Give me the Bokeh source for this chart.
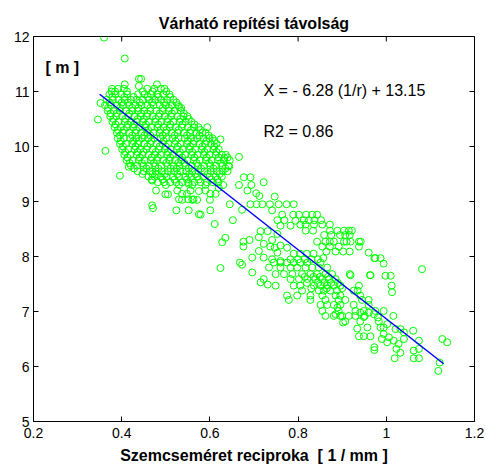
from bokeh.plotting import figure
from bokeh.models import Range1d, FixedTicker, Label, ColumnDataSource
from bokeh.embed import file_html
from bokeh.resources import INLINE

# ---------------- data ----------------
x_ticks = [0.2, 0.4, 0.6, 0.8, 1.0, 1.2]
x_tick_labels = ["0.2", "0.4", "0.6", "0.8", "1", "1.2"]
y_ticks = [5, 6, 7, 8, 9, 10, 11, 12]

fit_x = [0.35, 1.13]
fit_y = [10.95, 6.05]

equation_text = "X = - 6.28 (1/r) + 13.15"
r2_text = "R2 = 0.86"

# dense main cluster, rows of (y, x values)
blob_rows = [
    (11.05, [0.378, 0.392, 0.405, 0.458, 0.474, 0.489, 0.497]),
    (11.00, [0.385, 0.412, 0.448, 0.470, 0.501]),
    (10.95, [0.372, 0.386, 0.399, 0.412, 0.437, 0.452, 0.466, 0.481, 0.494, 0.508]),
    (10.90, [0.379, 0.406, 0.427, 0.459, 0.483, 0.510]),
    (10.85, [0.366, 0.380, 0.393, 0.407, 0.421, 0.434, 0.448, 0.462, 0.476, 0.489, 0.503, 0.517]),
    (10.80, [0.373, 0.400, 0.414, 0.441, 0.469, 0.496, 0.524]),
    (10.75, [0.362, 0.376, 0.389, 0.403, 0.417, 0.431, 0.445, 0.458, 0.472, 0.486, 0.500, 0.514, 0.528]),
    (10.70, [0.369, 0.396, 0.424, 0.438, 0.465, 0.493, 0.507, 0.535]),
    (10.65, [0.368, 0.382, 0.396, 0.410, 0.424, 0.437, 0.451, 0.465, 0.479, 0.493, 0.507, 0.520, 0.534]),
    (10.60, [0.375, 0.389, 0.417, 0.444, 0.458, 0.486, 0.514, 0.541]),
    (10.55, [0.374, 0.388, 0.401, 0.415, 0.429, 0.443, 0.457, 0.470, 0.484, 0.498, 0.512, 0.526, 0.540, 0.549]),
    (10.50, [0.381, 0.408, 0.436, 0.450, 0.477, 0.505, 0.533, 0.552]),
    (10.45, [0.379, 0.393, 0.407, 0.421, 0.434, 0.448, 0.462, 0.476, 0.490, 0.503, 0.517, 0.531, 0.545, 0.558]),
    (10.40, [0.386, 0.414, 0.428, 0.455, 0.483, 0.510, 0.538, 0.565]),
    (10.35, [0.384, 0.398, 0.412, 0.426, 0.440, 0.453, 0.467, 0.481, 0.495, 0.509, 0.522, 0.536, 0.550, 0.564, 0.574]),
    (10.30, [0.391, 0.405, 0.433, 0.460, 0.488, 0.502, 0.529, 0.557, 0.578]),
    (10.25, [0.389, 0.403, 0.417, 0.431, 0.444, 0.458, 0.472, 0.486, 0.500, 0.513, 0.527, 0.541, 0.555, 0.569, 0.583, 0.590]),
    (10.20, [0.396, 0.424, 0.451, 0.465, 0.493, 0.520, 0.548, 0.576, 0.597]),
    (10.15, [0.391, 0.405, 0.419, 0.433, 0.446, 0.460, 0.474, 0.488, 0.502, 0.515, 0.529, 0.543, 0.557, 0.571, 0.585, 0.599, 0.606]),
    (10.10, [0.398, 0.426, 0.439, 0.467, 0.495, 0.522, 0.550, 0.564, 0.592, 0.610]),
    (10.05, [0.396, 0.410, 0.424, 0.437, 0.451, 0.465, 0.479, 0.493, 0.506, 0.520, 0.534, 0.548, 0.562, 0.576, 0.589, 0.603, 0.615]),
    (10.00, [0.403, 0.431, 0.458, 0.486, 0.500, 0.527, 0.555, 0.583, 0.610]),
    (9.95, [0.401, 0.415, 0.429, 0.442, 0.456, 0.470, 0.484, 0.498, 0.511, 0.525, 0.539, 0.553, 0.567, 0.581, 0.594, 0.608, 0.620]),
    (9.90, [0.408, 0.436, 0.449, 0.477, 0.505, 0.532, 0.560, 0.588, 0.615]),
    (9.85, [0.406, 0.420, 0.434, 0.447, 0.461, 0.475, 0.489, 0.503, 0.516, 0.530, 0.544, 0.558, 0.572, 0.586, 0.599, 0.613, 0.627, 0.636]),
    (9.80, [0.413, 0.441, 0.468, 0.482, 0.510, 0.537, 0.565, 0.593, 0.620, 0.640]),
    (9.75, [0.411, 0.425, 0.439, 0.452, 0.466, 0.480, 0.494, 0.508, 0.521, 0.535, 0.549, 0.563, 0.577, 0.591, 0.604, 0.618, 0.632, 0.645]),
    (9.70, [0.418, 0.446, 0.473, 0.501, 0.528, 0.542, 0.570, 0.598, 0.625]),
    (9.65, [0.421, 0.435, 0.449, 0.462, 0.476, 0.490, 0.504, 0.518, 0.531, 0.545, 0.559, 0.573, 0.587, 0.601, 0.614, 0.628, 0.642]),
    (9.60, [0.428, 0.456, 0.483, 0.511, 0.525, 0.552, 0.580, 0.608, 0.635]),
    (9.55, [0.436, 0.450, 0.464, 0.477, 0.491, 0.505, 0.519, 0.533, 0.546, 0.560, 0.574, 0.588, 0.602, 0.616, 0.629, 0.640]),
    (9.50, [0.447, 0.470, 0.498, 0.526, 0.553, 0.567, 0.595, 0.622]),
    (9.45, [0.461, 0.475, 0.489, 0.502, 0.516, 0.530, 0.544, 0.558, 0.571, 0.585, 0.599, 0.613, 0.627]),
    (9.40, [0.468, 0.493, 0.520, 0.548, 0.575, 0.603, 0.617]),
    (9.35, [0.482, 0.496, 0.510, 0.524, 0.537, 0.551, 0.565, 0.579, 0.593, 0.607, 0.619]),
    (9.30, [0.500, 0.530, 0.560, 0.590]),
]

# lower cluster, rows of (y, x values)
lower_rows = [
    (8.05, [0.790, 0.805, 0.820, 0.835]),
    (7.95, [0.800, 0.815, 0.830, 0.845]),
    (7.89, [0.745, 0.760, 0.775, 0.790, 0.805, 0.821, 0.851]),
    (7.80, [0.734, 0.760, 0.783, 0.798, 0.817, 0.832, 0.847, 0.866]),
    (7.68, [0.749, 0.768, 0.787, 0.809, 0.828, 0.843, 0.862, 0.877, 0.917]),
    (7.63, [0.815, 0.835, 0.850, 0.868]),
    (7.59, [0.722, 0.783, 0.802, 0.821, 0.839, 0.855, 0.870, 0.885]),
    (7.52, [0.820, 0.845, 0.860, 0.875, 0.890]),
    (7.47, [0.749, 0.790, 0.805, 0.836, 0.851, 0.866, 0.881, 0.896]),
    (7.42, [0.830, 0.865, 0.900]),
    (7.38, [0.809, 0.847, 0.858, 0.873, 0.888, 0.926, 0.935]),
    (7.29, [0.775, 0.798, 0.828, 0.855, 0.885, 0.896, 0.941]),
    (7.21, [0.779, 0.828, 0.862, 0.892, 0.907, 0.945, 0.960]),
    (7.12, [0.851, 0.866, 0.881, 0.896, 0.926, 0.960]),
    (7.01, [0.855, 0.892, 0.930, 0.949, 0.975]),
    (6.92, [0.862, 0.881, 0.900, 0.930, 0.951]),
]

# scattered points around the main cluster and the upper band, (x, y)
scatter_pts = [
    (0.360, 11.98), (0.407, 11.60), (0.346, 10.49), (0.352, 10.79), (0.363, 9.92),
    (0.396, 9.47), (0.416, 9.63), (0.407, 11.13), (0.439, 11.23), (0.444, 11.23),
    (0.439, 11.10), (0.480, 11.13), (0.530, 10.72), (0.377, 11.00),
    (0.469, 8.93), (0.471, 8.88), (0.478, 9.20), (0.499, 9.13), (0.505, 9.13),
    (0.524, 8.84), (0.552, 8.84), (0.530, 9.04), (0.551, 9.04), (0.526, 9.20),
    (0.556, 9.20), (0.563, 9.04), (0.575, 8.77), (0.469, 9.38), (0.480, 9.50),
    (0.552, 9.32), (0.575, 9.19), (0.571, 9.03), (0.537, 9.14), (0.548, 9.14),
    (0.601, 9.14), (0.613, 9.14), (0.590, 9.20), (0.537, 9.03), (0.560, 9.03),
    (0.600, 9.03), (0.620, 9.25), (0.630, 9.30),
    (0.594, 10.35), (0.624, 10.13), (0.666, 9.81), (0.633, 9.79), (0.644, 9.64),
    (0.692, 9.44), (0.677, 9.44), (0.722, 9.35), (0.705, 9.15), (0.712, 9.10),
    (0.747, 9.09), (0.666, 9.30), (0.694, 9.30), (0.685, 9.20), (0.673, 8.85),
    (0.652, 8.66), (0.611, 8.59), (0.579, 8.76), (0.601, 8.84), (0.645, 8.95),
    (0.692, 8.95), (0.706, 8.95), (0.719, 8.95), (0.736, 8.95), (0.756, 8.95),
    (0.774, 8.95), (0.790, 8.95),
    (0.741, 8.84), (0.764, 8.76), (0.753, 8.66), (0.769, 8.66), (0.789, 8.76),
    (0.802, 8.76), (0.760, 8.56), (0.783, 8.56), (0.794, 8.65),
    (0.818, 8.76), (0.832, 8.76), (0.843, 8.76),
    (0.813, 8.66), (0.824, 8.66), (0.837, 8.66), (0.852, 8.66),
    (0.805, 8.58), (0.817, 8.58), (0.836, 8.58), (0.855, 8.58), (0.872, 8.58),
    (0.817, 8.47), (0.834, 8.47), (0.872, 8.47), (0.889, 8.47), (0.904, 8.47),
    (0.915, 8.47), (0.922, 8.47),
    (0.859, 8.39), (0.875, 8.39), (0.895, 8.39), (0.907, 8.39), (0.917, 8.39),
    (0.843, 8.27), (0.862, 8.27), (0.872, 8.27), (0.881, 8.27), (0.904, 8.27),
    (0.910, 8.27), (0.919, 8.27), (0.938, 8.27), (0.942, 8.27),
    (0.855, 8.18), (0.872, 8.18), (0.892, 8.18), (0.938, 8.18),
    (0.864, 8.09), (0.885, 8.09), (0.902, 8.09), (0.917, 8.09), (0.960, 8.07),
    (0.857, 7.97), (0.975, 7.97), (0.987, 7.97), (0.994, 7.87),
    (0.715, 8.46), (0.731, 8.46), (0.711, 8.35), (0.741, 8.30), (0.722, 8.23),
    (0.737, 8.18), (0.760, 8.20), (0.775, 8.16), (0.753, 8.07), (0.711, 8.10),
    (0.696, 7.98), (0.722, 7.98), (0.741, 7.95), (0.760, 7.92), (0.783, 7.95),
    (0.635, 8.34), (0.628, 8.26), (0.676, 8.27), (0.690, 8.30), (0.676, 8.18),
    (0.668, 7.89), (0.624, 7.79), (0.673, 7.85), (0.696, 7.71), (0.715, 7.53),
    (0.731, 7.49), (0.753, 8.41), (0.747, 8.16),
]

# tail of the distribution (x, y)
tail_pts = [
    (0.934, 6.69), (0.938, 6.55), (0.949, 6.55), (0.964, 6.55), (0.949, 6.90),
    (0.941, 6.98), (0.960, 6.98), (0.994, 7.01), (0.972, 6.95), (0.981, 6.89),
    (0.915, 6.92), (0.902, 6.80), (0.889, 7.07), (0.885, 6.95), (0.896, 6.92),
    (0.994, 6.71), (1.002, 6.77), (1.016, 6.92), (1.021, 6.68), (1.032, 6.68),
    (1.040, 6.62), (1.061, 6.65), (0.994, 6.59), (1.006, 6.53), (0.990, 6.50),
    (1.002, 6.44), (1.017, 6.47), (1.028, 6.41), (1.040, 6.50), (1.023, 6.32),
    (1.032, 6.25), (1.074, 6.47), (1.074, 6.32), (1.062, 6.29), (1.062, 6.15),
    (1.074, 6.15), (1.019, 6.15), (0.973, 6.35), (0.973, 6.30), (1.118, 5.92),
    (1.121, 6.07), (1.127, 6.50), (1.138, 6.44),
    (0.998, 7.65), (1.010, 7.65), (0.963, 7.66), (1.013, 7.35), (1.081, 7.77),
    (0.973, 7.97), (0.919, 7.66), (0.964, 7.66), (0.938, 7.47), (1.012, 7.47),
    (0.907, 6.82), (0.941, 6.82), (0.983, 6.82), (0.957, 6.71), (0.987, 6.71),
]

# ---------------- build columns ----------------
xs, ys = [], []
for yv, row in blob_rows + lower_rows:
    for xv in row:
        xs.append(xv)
        ys.append(yv)
for xv, yv in scatter_pts + tail_pts:
    xs.append(xv)
    ys.append(yv)

src = ColumnDataSource(data=dict(x=xs, y=ys))

FONT = "Liberation Sans"
X0, X1 = x_ticks[0], x_ticks[-1]
Y0, Y1 = y_ticks[0], y_ticks[-1]
FRAME_W, FRAME_H = 441, 385
TICK_PX = 5

p = figure(width=486, height=469, output_backend="svg", toolbar_location=None,
           x_range=Range1d(X0, X1), y_range=Range1d(Y0, Y1),
           min_border_left=33, min_border_right=12, min_border_top=36,
           min_border_bottom=48, title="Várható repítési távolság")
p.title.align = "center"
p.title.text_font = FONT
p.title.text_font_size = "16px"
p.title.text_font_style = "bold"
p.title.text_color = "black"
p.grid.visible = False
p.outline_line_color = "black"
p.outline_line_width = 1
p.background_fill_color = "white"
p.border_fill_color = "white"

for ax in (p.xaxis[0], p.yaxis[0]):
    ax.major_tick_in = TICK_PX
    ax.major_tick_out = 0
    ax.minor_tick_in = 0
    ax.minor_tick_out = 0
    ax.axis_line_color = "black"
    ax.major_tick_line_color = "black"
    ax.major_label_text_font = FONT
    ax.major_label_text_font_size = "14px"
    ax.major_label_text_color = "black"

p.xaxis.ticker = FixedTicker(ticks=x_ticks)
p.xaxis.major_label_overrides = dict(zip(x_ticks, x_tick_labels))
p.xaxis.major_label_standoff = 6
p.xaxis.axis_label = "Szemcseméret reciproka \u00a0[ 1 / mm ]"
p.xaxis.axis_label_text_font = FONT
p.xaxis.axis_label_text_font_size = "16px"
p.xaxis.axis_label_text_font_style = "bold"
p.xaxis.axis_label_text_color = "black"
p.xaxis.axis_label_standoff = 6
p.yaxis.ticker = FixedTicker(ticks=y_ticks)
p.yaxis.major_label_standoff = 4

# inward ticks on the top and right edges of the box (MATLAB style)
dy = (Y1 - Y0) * TICK_PX / FRAME_H
dx = (X1 - X0) * TICK_PX / FRAME_W
p.segment(x0=x_ticks, y0=[Y1] * len(x_ticks), x1=x_ticks, y1=[Y1 - dy] * len(x_ticks),
          line_color="black", line_width=1)
p.segment(x0=[X1] * len(y_ticks), y0=y_ticks, x1=[X1 - dx] * len(y_ticks), y1=y_ticks,
          line_color="black", line_width=1)

p.scatter("x", "y", source=src, marker="circle", size=7, fill_color=None,
          line_color="#00FF00", line_width=1)
p.line(fit_x, fit_y, line_color="#0000FF", line_width=1.5)

p.add_layout(Label(x=0.227, y=11.43, text="[ m ]", text_font=FONT, text_font_size="16px",
                   text_font_style="bold", text_baseline="middle", text_color="black"))
p.add_layout(Label(x=0.7215, y=11.01, text=equation_text, text_font=FONT, text_font_size="16px",
                   text_baseline="middle", text_color="black"))
p.add_layout(Label(x=0.7215, y=10.28, text=r2_text, text_font=FONT, text_font_size="16px",
                   text_baseline="middle", text_color="black"))

open("out.html", "w").write(file_html(p, INLINE))
